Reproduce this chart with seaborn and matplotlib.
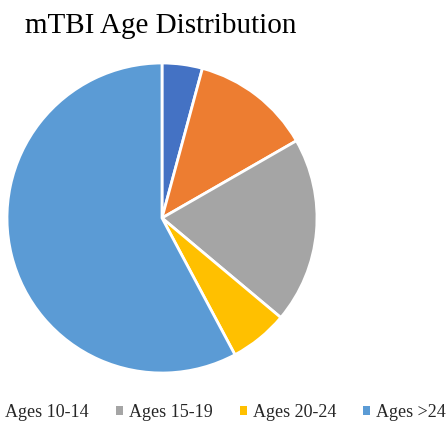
import matplotlib
matplotlib.use("Agg")
import matplotlib.pyplot as plt
from matplotlib.patches import Patch
import seaborn as sns

# data (percent of cases)
age_groups = ["Ages <10", "Ages 10-14", "Ages 15-19", "Ages 20-24", "Ages >24"]
shares = [4.2, 12.5, 19.4, 6.1, 57.8]
colors = ["#4472C4", "#ED7D31", "#A5A5A5", "#FFC000", "#5B9BD5"]

sns.set_theme(style="white")
plt.rcParams["font.family"] = ["Liberation Serif", "DejaVu Serif"]
palette = sns.color_palette(colors)

W, H = 447, 423
fig = plt.figure(figsize=(W / 100, H / 100), dpi=100)

# pie centre ~ (162, 218) px, radius ~155 px
cx, cy, r = 162, 218, 155
ax = fig.add_axes([(cx - r) / W, (H - cy - r) / H, 2 * r / W, 2 * r / H])
ax.pie(shares, colors=palette, startangle=90, counterclock=False,
       wedgeprops=dict(edgecolor="white", linewidth=2))
ax.set_xlim(-1, 1)
ax.set_ylim(-1, 1)
ax.set_aspect("equal")
ax.axis("off")

fig.text(25 / W, (H - 33) / H, "mTBI Age Distribution", fontsize=21,
         ha="left", va="baseline", color="black")

# legend runs off the left edge in the original, so the first entries are clipped
handles = [Patch(facecolor=c, edgecolor="none") for c in palette]
fig.legend(handles, age_groups, loc="center", bbox_to_anchor=(164 / W, (H - 412) / H),
           ncol=5, frameon=False, fontsize=13, handlelength=0.39, handleheight=0.39,
           handletextpad=0.33, columnspacing=1.5, borderpad=0, borderaxespad=0)

fig.savefig("out.png", dpi=100, facecolor="white")
